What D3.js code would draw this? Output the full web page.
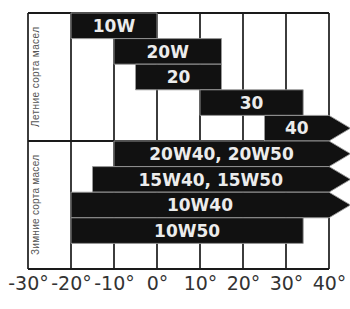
<!DOCTYPE html>
<html>
<head>
<meta charset="utf-8">
<script src="https://cdn.jsdelivr.net/npm/d3@7"></script>
<style>
  body { margin: 0; background: #fff; }
  svg { display: block; }
</style>
</head>
<body>
<svg width="350" height="309"></svg>
<script>
const width = 350,
    height = 309;

// grades, temperature range (°C) each one covers, and whether it runs off to the right
const grades = ['10W', '20W', '20', '30', '40', '20W40, 20W50', '15W40, 15W50', '10W40', '10W50'];
const tFrom = [-20, -10, -5, 10, 25, -10, -15, -20, -20];
const tTo = [0, 15, 15, 34, 40, 40, 40, 40, 34];
const openEnded = [false, false, false, false, true, true, true, true, false];

const ticks = [-30, -20, -10, 0, 10, 20, 30, 40];
const groups = ['Летние сорта масел', 'Зимние сорта масел'];
const groupRows = [[0, 5], [5, 10]];

const x = d3.scaleLinear()
    .domain([-30, 40])
    .range([28, 329]);

const y = d3.scaleBand()
    .domain(d3.range(10))
    .range([13, 269]);

const svg = d3.select('svg');
const g = svg.append('g');

// vertical grid lines
g.selectAll('.grid')
    .data(ticks)
    .enter().append('line')
    .attr('x1', d => x(d)).attr('x2', d => x(d))
    .attr('y1', y.range()[0]).attr('y2', y.range()[1])
    .style('stroke', '#1a1a1a')
    .style('stroke-width', 1.7);

// frame + split between summer / winter
[y.range()[0], y(5), y.range()[1]].forEach(v => {
    g.append('line')
        .attr('x1', x(-30)).attr('x2', x(40))
        .attr('y1', v).attr('y2', v)
        .style('stroke', '#1a1a1a')
        .style('stroke-width', 1.8);
});

const rows = grades.map((name, i) => ({
    name: name, from: tFrom[i], to: tTo[i], arrow: openEnded[i], row: i
}));

const barPath = d => {
    const x0 = x(d.from), x1 = x(d.to);
    const y0 = y(d.row), y1 = y0 + y.bandwidth();
    if (!d.arrow)
        return `M${x0},${y0}H${x1}V${y1}H${x0}Z`;
    const tip = x(45);
    return `M${x0},${y0}H${x1}L${tip},${(y0 + y1) / 2}L${x1},${y1}H${x0}Z`;
};

const bar = g.selectAll('.bar')
    .data(rows)
    .enter().append('g')
    .attr('class', 'bar');

bar.append('path')
    .attr('d', barPath)
    .style('fill', '#111')
    .style('stroke', '#9a9a9a')
    .style('stroke-width', 0.9);

bar.append('text')
    .attr('x', d => (x(d.from) + x(d.to)) / 2)
    .attr('y', d => y(d.row) + y.bandwidth() / 2)
    .attr('dy', '0.36em')
    .attr('text-anchor', 'middle')
    .style('font-family', 'DejaVu Sans')
    .style('font-weight', 'bold')
    .style('font-size', '17px')
    .style('fill', '#ececec')
    .text(d => d.name);

// rotated group captions in the left column
g.selectAll('.group')
    .data(groups)
    .enter().append('text')
    .attr('transform', (d, i) => {
        const r = groupRows[i];
        const cy = (y(r[0]) + y(r[1] - 1) + y.bandwidth()) / 2;
        return 'translate(39,' + cy + ') rotate(-90)';
    })
    .attr('text-anchor', 'middle')
    .attr('textLength', 100)
    .style('font-family', 'Liberation Sans')
    .style('font-size', '10px')
    .style('fill', '#555')
    .text(d => d);

// temperature axis
const axis = svg.append('g')
    .attr('transform', 'translate(0,' + y.range()[1] + ')')
    .call(d3.axisBottom(x).tickValues(ticks).tickSize(0).tickPadding(7.5)
        .tickFormat(d => d + '°'));

axis.select('.domain').remove();
axis.selectAll('text')
    .style('font-family', 'DejaVu Sans')
    .style('font-size', '19px')
    .style('fill', '#333');
</script>
</body>
</html>
